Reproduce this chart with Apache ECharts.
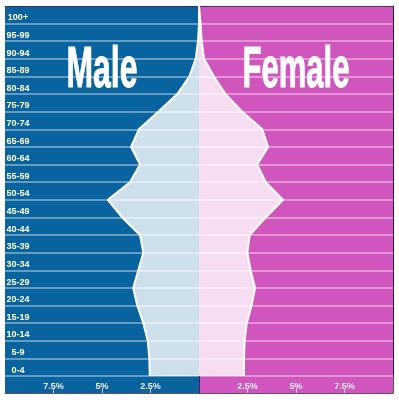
<!DOCTYPE html>
<html>
<head>
<meta charset="utf-8">
<script src="https://cdn.jsdelivr.net/npm/echarts@6/dist/echarts.min.js"></script>
<style>
html,body{margin:0;padding:0;background:#fff;}
#chart{width:399px;height:400px;}
</style>
</head>
<body>
<div id="chart"></div>
<script>
// Age groups, bottom to top
const ageGroups = ['0-4','5-9','10-14','15-19','20-24','25-29','30-34','35-39','40-44','45-49','50-54','55-59','60-64','65-69','70-74','75-79','80-84','85-89','90-94','95-99','100+'];
// Boundaries between the age groups (bottom edge of 0-4 up to top edge of 100+)
const groupEdges = ['0','5','10','15','20','25','30','35','40','45','50','55','60','65','70','75','80','85','90','95','100','105'];
// Share of population (%) at each boundary
const maleShare   = [2.54, 2.56, 2.64, 2.87, 3.18, 3.39, 3.13, 2.87, 3.04, 3.96, 4.70, 3.56, 3.04, 3.50, 3.10, 2.10, 1.12, 0.50, 0.17, 0.05, 0.00, 0.00];
const femaleShare = [2.32, 2.32, 2.35, 2.46, 2.71, 2.89, 2.66, 2.49, 2.61, 3.44, 4.33, 3.44, 3.00, 3.56, 3.26, 2.23, 1.37, 0.77, 0.26, 0.14, 0.08, 0.00];
// Tick positions on the percentage axis
const tickValues = [-7.5, -5, -2.5, 2.5, 5, 7.5];

const BLUE = '#08639e';
const PINK = '#d056bd';
const BORDER = 'rgba(35,0,55,0.7)';

const halfBg = {
  type: 'linear', x: 0, y: 0, x2: 1, y2: 0,
  colorStops: [
    {offset: 0, color: BLUE}, {offset: 0.5, color: BLUE},
    {offset: 0.5, color: PINK}, {offset: 1, color: PINK}
  ]
};

const chart = echarts.init(document.getElementById('chart'), null, {renderer: 'canvas'});
chart.setOption({
  animation: false,
  backgroundColor: '#fff',
  grid: [
    {left: 5, right: 6, top: 6, bottom: 24, show: true, borderWidth: 0, backgroundColor: halfBg},
    {left: 5, right: 6, top: 376, bottom: 7, show: true, borderWidth: 0, backgroundColor: halfBg}
  ],
  xAxis: [
    {
      type: 'value', gridIndex: 0, min: -10, max: 10, position: 'top',
      axisLine: {show: true, onZero: false, lineStyle: {color: BORDER, width: 1}},
      axisTick: {show: false}, axisLabel: {show: false}, splitLine: {show: false}
    },
    {
      type: 'value', gridIndex: 1, min: -10, max: 10, position: 'bottom',
      axisLine: {show: true, onZero: false, lineStyle: {color: BORDER, width: 1}},
      axisTick: {show: true, inside: true, length: 4, customValues: tickValues,
                 lineStyle: {color: '#c9c9d6', width: 1}},
      axisLabel: {show: true, inside: true, margin: 2, customValues: tickValues,
                  color: '#eeeef4', fontSize: 9, fontWeight: 'bold',
                  fontFamily: '"Liberation Sans", Arial, sans-serif',
                  formatter: v => Math.abs(v) + '%'},
      splitLine: {show: false}
    }
  ],
  yAxis: [
    {
      type: 'category', gridIndex: 0, data: ageGroups, boundaryGap: true, position: 'left',
      axisLine: {show: false}, axisTick: {show: false},
      axisLabel: {show: true, inside: true, margin: 13, align: 'center',
                  verticalAlign: 'top', lineHeight: 6,
                  color: '#ffffff', fontSize: 9, fontWeight: 'bold',
                  fontFamily: '"Liberation Sans", Arial, sans-serif'},
      splitLine: {show: true, interval: 0, lineStyle: {color: 'rgba(255,255,255,0.5)', width: 1.5}}
    },
    {
      type: 'category', gridIndex: 0, data: groupEdges, boundaryGap: false,
      axisLine: {show: true, onZero: true, lineStyle: {color: BORDER, width: 1}},
      axisTick: {show: false}, axisLabel: {show: false}, splitLine: {show: false}
    },
    {
      type: 'value', gridIndex: 0, position: 'right',
      axisLine: {show: true, onZero: false, lineStyle: {color: BORDER, width: 1}},
      axisTick: {show: false}, axisLabel: {show: false}, splitLine: {show: false}
    },
    {
      type: 'value', gridIndex: 1,
      axisLine: {show: true, onZero: true, lineStyle: {color: BORDER, width: 1}},
      axisTick: {show: false}, axisLabel: {show: false}, splitLine: {show: false}
    },
    {
      type: 'value', gridIndex: 1, position: 'right',
      axisLine: {show: true, onZero: false, lineStyle: {color: BORDER, width: 1}},
      axisTick: {show: false}, axisLabel: {show: false}, splitLine: {show: false}
    }
  ],
  series: [
    {
      name: 'Male', type: 'line', xAxisIndex: 0, yAxisIndex: 1,
      data: maleShare.map(v => -v), symbol: 'none', silent: true,
      lineStyle: {color: '#ffffff', width: 2},
      areaStyle: {color: '#ffffff', opacity: 0.8}
    },
    {
      name: 'Female', type: 'line', xAxisIndex: 0, yAxisIndex: 1,
      data: femaleShare, symbol: 'none', silent: true,
      lineStyle: {color: '#ffffff', width: 2},
      areaStyle: {color: '#ffffff', opacity: 0.8}
    }
  ],
  graphic: [
    {
      type: 'text', x: 102, y: 71, scaleX: 0.56, z: 100,
      style: {text: 'Male', fill: '#ffffff', stroke: '#ffffff', lineWidth: 1,
              font: 'bold 57px "Liberation Sans", Arial, sans-serif',
              align: 'center', verticalAlign: 'middle'}
    },
    {
      type: 'text', x: 296, y: 71, scaleX: 0.545, z: 100,
      style: {text: 'Female', fill: '#ffffff', stroke: '#ffffff', lineWidth: 1,
              font: 'bold 57px "Liberation Sans", Arial, sans-serif',
              align: 'center', verticalAlign: 'middle'}
    }
  ]
});
</script>
</body>
</html>
